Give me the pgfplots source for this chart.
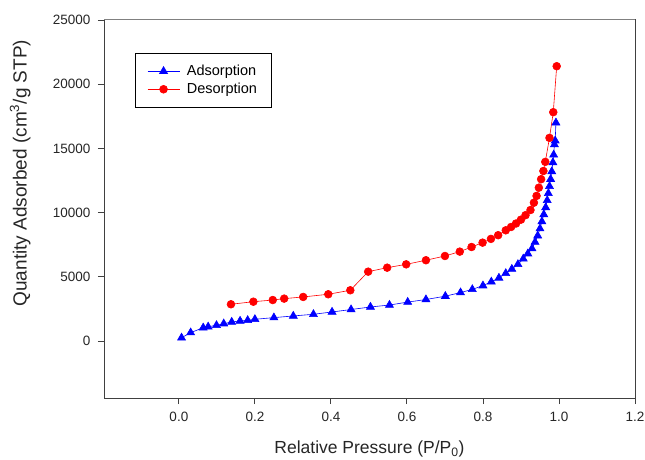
\documentclass[border=0pt]{standalone}
\usepackage{pgfplots}
\pgfplotsset{compat=1.18}
\usepackage{fontspec}
\setmainfont{Liberation Sans}
\definecolor{axgray}{RGB}{64,64,64}
\begin{document}
\begin{tikzpicture}
\path[use as bounding box] (-104bp,-62bp) rectangle (541bp,398bp);
\begin{axis}[
    at={(0,0)}, anchor=south west,
    scale only axis,
    width=531bp, height=378bp,
    xmin=-0.197, xmax=1.2,
    ymin=-4440, ymax=25000,
    xtick={0,0.2,0.4,0.6,0.8,1.0,1.2},
    ytick={0,5000,10000,15000,20000,25000},
    scaled y ticks=false,
    xticklabel style={/pgf/number format/fixed, /pgf/number format/fixed zerofill, /pgf/number format/precision=1, yshift=-5bp},
    yticklabel style={/pgf/number format/1000 sep={}, xshift=-4bp},
    /pgf/number format/assume math mode=true,
    tick label style={font=\fontsize{13.5bp}{15bp}\selectfont, text=black!85},
    xlabel style={font=\fontsize{17.5bp}{20bp}\selectfont, text=black!85, yshift=-12bp},
    ylabel style={font=\fontsize{19bp}{22bp}\selectfont, text=black!85,
        at={(rel axis cs:-0.158,0.595)}, anchor=center, rotate=0},
    tick pos=left,
    tick align=outside,
    major tick length=6bp,
    every tick/.style={axgray, line width=0.9pt},
    axis line style={axgray, line width=1pt},
    xlabel={Relative Pressure (P/P\textsubscript{0})},
    ylabel={Quantity Adsorbed (cm\textsuperscript{3}/g STP)},
    legend style={at={(rel axis cs:0.058,0.913)}, anchor=north west,
        draw=black, line width=0.8pt, fill=white,
        font=\fontsize{14.5bp}{17bp}\selectfont,
        inner xsep=12bp, inner ysep=10bp, row sep=2bp,
        /tikz/every odd column/.append style={column sep=5bp},
        cells={anchor=west}},
    legend image code/.code={
        \draw[mark repeat=2, mark phase=2, line width=0.7pt] plot coordinates {(0bp,0bp) (16bp,0bp) (32bp,0bp)};},
]
\addplot[blue, line width=0.6pt, mark=triangle*, mark size=4.6bp, mark options={solid, fill=blue, draw=blue}] coordinates {
(0.007,250) (0.031,650) (0.064,1035) (0.077,1110) (0.099,1220) (0.118,1350)
(0.139,1480) (0.161,1560) (0.181,1610) (0.200,1690) (0.250,1820) (0.301,1950)
(0.354,2080) (0.403,2260) (0.453,2450) (0.504,2650) (0.554,2800) (0.602,3030)
(0.650,3230) (0.701,3490) (0.741,3770) (0.772,4020) (0.800,4310) (0.822,4610)
(0.842,4910) (0.860,5270) (0.876,5600) (0.892,5970) (0.906,6400) (0.918,6800)
(0.929,7200) (0.937,7700) (0.944,8200) (0.950,8750) (0.955,9300) (0.960,9850)
(0.965,10400) (0.969,10950) (0.972,11500) (0.975,12050) (0.978,12600) (0.981,13200)
(0.984,13900) (0.986,14500) (0.988,15300) (0.990,15600) (0.992,17000)
};
\addlegendentry{Adsorption}
\addplot[red, line width=0.6pt, mark=*, mark size=3.9bp, mark options={solid, fill=red, draw=red}] coordinates {
(0.994,21400) (0.985,17820) (0.975,15820) (0.964,13950) (0.959,13240) (0.953,12600)
(0.947,11940) (0.941,11300) (0.934,10770) (0.925,10200) (0.912,9800) (0.900,9450)
(0.887,9150) (0.874,8880) (0.860,8620) (0.840,8240) (0.821,7950) (0.799,7660)
(0.770,7320) (0.739,6960) (0.700,6620) (0.650,6290) (0.598,5970) (0.548,5710)
(0.498,5400) (0.451,3950) (0.393,3640) (0.327,3430) (0.277,3300) (0.247,3190)
(0.196,3060) (0.137,2860)
};
\addlegendentry{Desorption}
% frame: top edge lighter, right edge dark
\draw[gray, line width=1pt] (rel axis cs:0,1) -- (rel axis cs:1,1);
\draw[axgray, line width=1pt] (rel axis cs:1,0) -- (rel axis cs:1,1);
\end{axis}
\end{tikzpicture}
\end{document}
